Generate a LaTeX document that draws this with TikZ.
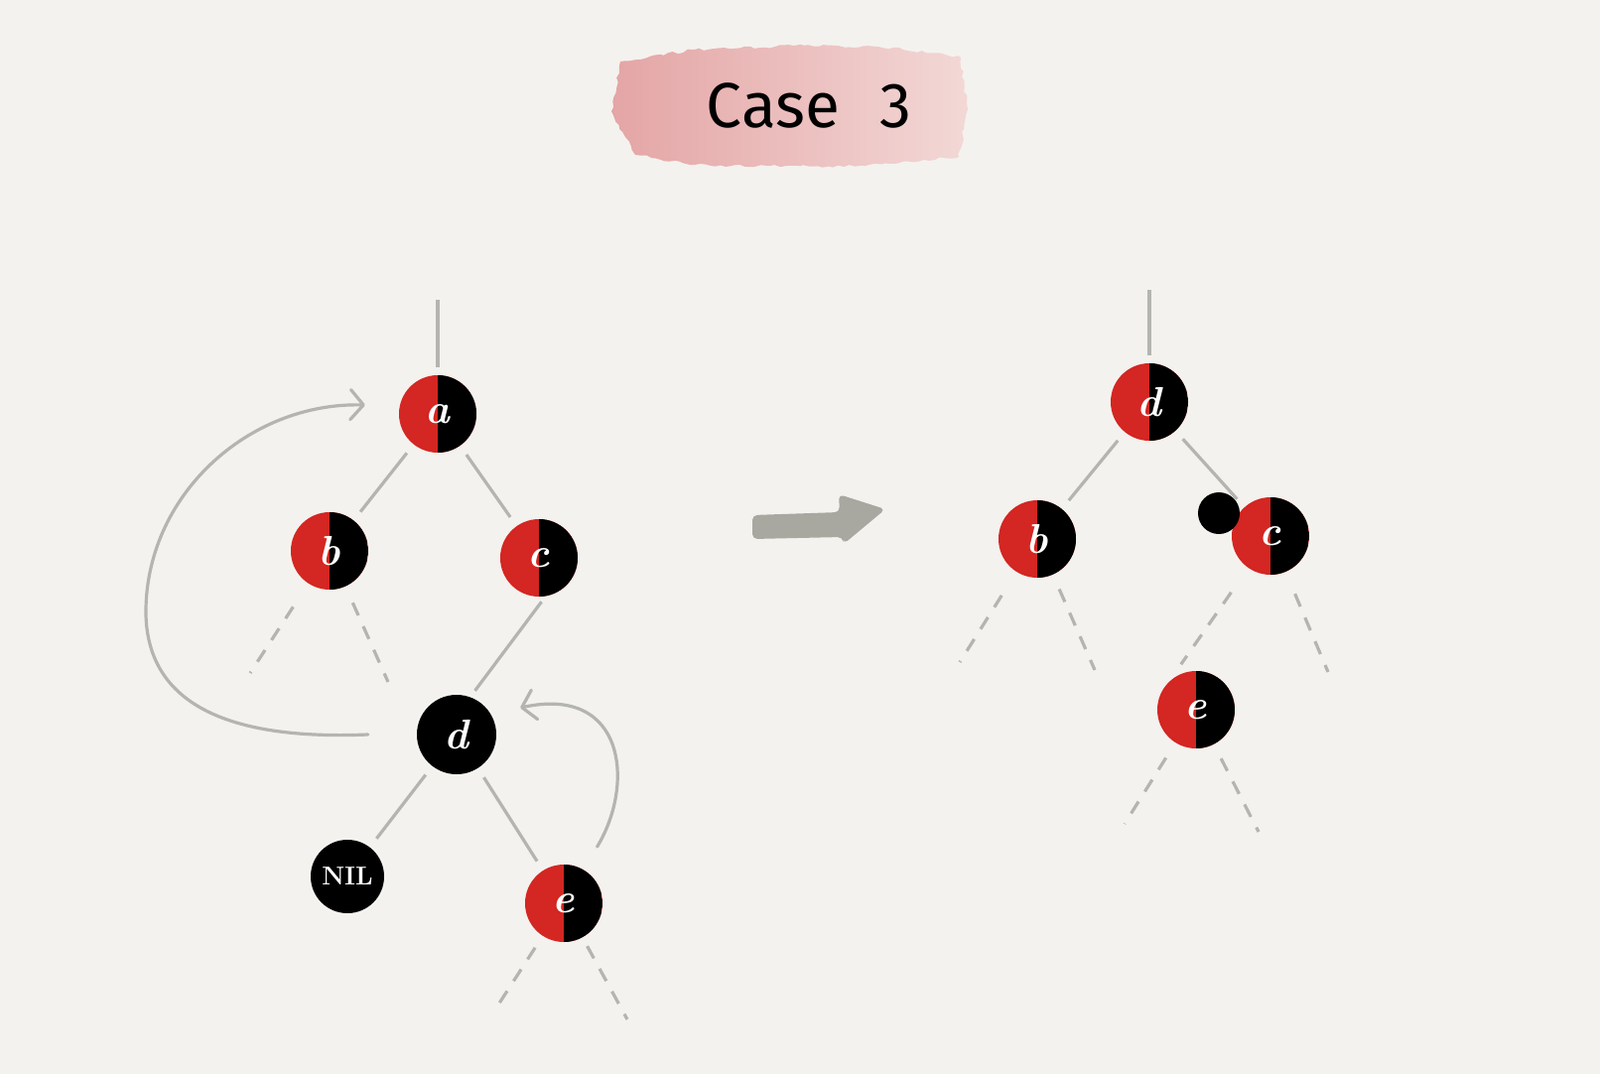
\documentclass[tikz,border=0pt]{standalone}
\usepackage{fontspec}
\newfontfamily\titlefont{Fira Sans}
\usetikzlibrary{arrows.meta,decorations.pathmorphing}
\definecolor{bg}{RGB}{244,242,238}
\definecolor{rbred}{RGB}{212,38,34}
\definecolor{edgegray}{RGB}{180,180,176}
\definecolor{arrowgray}{RGB}{168,167,160}
\definecolor{pinkA}{RGB}{228,165,165}
\definecolor{pinkB}{RGB}{242,216,214}
\begin{document}
\begin{tikzpicture}[x=1pt,y=-1pt,
 rbnode/.style={circle,minimum size=78pt,inner sep=0pt,fill=rbred,text=white,
   font=\fontsize{42}{42}\selectfont\bfseries\itshape,
   path picture={\fill[black] (path picture bounding box.north) rectangle (path picture bounding box.south east);}},
 blknode/.style={circle,minimum size=80pt,inner sep=0pt,fill=black,text=white,
   font=\fontsize{42}{42}\selectfont\bfseries\itshape},
 edge/.style={draw=edgegray,line width=3.2pt,shorten <=11pt,shorten >=11pt},
 stub/.style={draw=edgegray,line width=3.2pt,dash pattern=on 14pt off 12pt},
 curvearrow/.style={draw=edgegray,line width=3.2pt,line cap=round,line join=round,
   -{Straight Barb[length=13pt,width=30pt,round]}}]
\fill[bg] (0,0) rectangle (1612,1082);
\useasboundingbox (0,0) rectangle (1612,1082);

% title
\path[left color=pinkA,right color=pinkB,decorate,
  decoration={random steps,segment length=5pt,amplitude=1.5pt}]
  (625,62) -- (700,50) -- (800,46) -- (900,48) -- (968,58) -- (975,110)
  -- (966,158) -- (850,168) -- (700,166) -- (640,156) -- (616,112) -- cycle;
\node[font=\titlefont\fontsize{64}{64}\selectfont,anchor=base] (title) at (815,128) {Case\hspace{40pt}3};

% left tree
\node[rbnode] (a) at (441,417) {a};
\node[rbnode] (b) at (332,555) {b};
\node[rbnode] (c) at (543,562) {c};
\node[blknode] (d) at (460,740) {d};
\node[blknode,minimum size=74pt,font=\fontsize{26}{26}\selectfont\bfseries] (nil) at (350,883) {NIL};
\node[rbnode] (e) at (568,910) {e};

\coordinate (atop) at (441,302);
\coordinate (bL) at (252,678);
\coordinate (bR) at (391,687);
\coordinate (eL) at (497,1020);
\coordinate (eR) at (632,1027);

\draw[edge,shorten <=0pt,shorten >=8pt] (atop) -- (a);
\draw[edge] (a) -- (b);
\draw[edge] (a) -- (c);
\draw[edge,shorten <=7pt,shorten >=8pt] (c.280) -- (d.70);
\draw[edge] (d) -- (nil);
\draw[edge] (d) -- (e);
\draw[stub,shorten <=28pt] (b) -- (bL);
\draw[stub,shorten <=18pt] (b) -- (bR);
\draw[stub,shorten <=14pt] (e) -- (eL);
\draw[stub,shorten <=10pt] (e) -- (eR);

\draw[curvearrow] ([xshift=-49pt]d.west) .. controls (250,745) and (150,720) .. (147,620)
  .. controls (145,500) and (250,405) .. ([xshift=-34pt,yshift=9pt]a.west);
\draw[curvearrow] ([xshift=14pt,yshift=23pt]e.60) .. controls (640,790) and (630,690)
  .. ([xshift=24pt,yshift=27pt]d.east);

% big arrow
\fill[arrowgray,rounded corners=5pt] (758,519) -- (846,516) -- (845,498) -- (892,513)
  -- (850,548) -- (849,541) -- (758,543) -- cycle;

% right tree
\node[rbnode] (d2) at (1158,405) {d};
\node[rbnode] (b2) at (1045,543) {b};
\node[rbnode] (c2) at (1280,540) {c};
\node[rbnode] (e2) at (1205,715) {e};

\coordinate (d2top) at (1158,292);
\coordinate (b2L) at (967,667);
\coordinate (b2R) at (1103,675);
\coordinate (c2R) at (1338,677);
\coordinate (e2L) at (1133,830);
\coordinate (e2R) at (1268,838);

\draw[edge,shorten <=0pt,shorten >=8pt] (d2top) -- (d2);
\draw[edge] (d2) -- (b2);
\draw[edge] (d2) -- (c2);
\draw[stub,shorten <=28pt] (b2) -- (b2L);
\draw[stub,shorten <=16pt] (b2) -- (b2R);
\draw[stub,shorten <=24pt] (c2) -- (c2R);
\draw[stub,shorten <=30pt,shorten >=22pt] (c2) -- (e2.north west);
\draw[stub,shorten <=18pt] (e2) -- (e2L);
\draw[stub,shorten <=16pt] (e2) -- (e2R);

\node[circle,fill=black,minimum size=42pt,inner sep=0pt] (dot) at (1228,517) {};
\end{tikzpicture}
\end{document}
